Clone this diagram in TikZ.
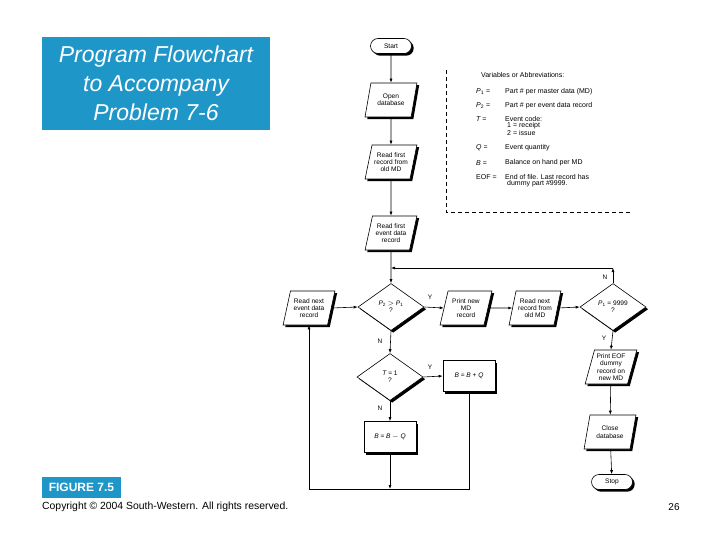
\documentclass[tikz,border=0pt]{standalone}
\usepackage{fontspec}
\setmainfont{Liberation Sans}
\usetikzlibrary{shapes.geometric,shapes.misc,shadows,arrows.meta}
\definecolor{titleblue}{RGB}{30,150,200}
\begin{document}
\begin{tikzpicture}[x=1pt,y=-1pt,
  font=\fontsize{6.6}{7.3}\selectfont,
  base/.style={draw=black, fill=white, line width=0.6pt, align=center, inner sep=1pt,
    drop shadow={shadow xshift=2.2pt, shadow yshift=-2.2pt, opacity=1, fill=black}},
  io/.style={base, trapezium, trapezium left angle=73, trapezium right angle=107,
    trapezium stretches=true, minimum width=52pt, minimum height=34pt},
  dec/.style={base, diamond, minimum width=66pt, minimum height=47pt, inner sep=0pt},
  proc/.style={base, rectangle, minimum width=52pt, minimum height=31pt},
  term/.style={base, rounded rectangle, minimum width=43pt, minimum height=15pt,
    drop shadow={shadow xshift=1.2pt, shadow yshift=-1.2pt, opacity=1, fill=black}},
  arr/.style={-{Latex[length=4pt,width=3pt]}, line width=0.6pt},
  ln/.style={line width=0.6pt},
  yn/.style={font=\fontsize{6.5}{7}\selectfont, inner sep=0pt},
  lg/.style={anchor=west, inner sep=0pt, font=\fontsize{7}{8}\selectfont},
]
\useasboundingbox (0,0) rectangle (720,540);

% title
\node[fill=titleblue, text=white, minimum width=228pt, minimum height=93pt, inner sep=0pt,
  align=center, font=\fontsize{23}{29}\selectfont\itshape] (title) at (156,83.5)
  {Program Flowchart\\to Accompany\\Problem 7-6};

% footer
\node[fill=titleblue, text=white, minimum width=79pt, minimum height=21pt, inner sep=0pt,
  font=\fontsize{12}{13}\selectfont\bfseries] (fig) at (81.5,487.5) {FIGURE 7.5};
\node[anchor=west, inner sep=0pt, font=\fontsize{10.4}{11}\selectfont] (copy) at (42,507)
  {Copyright \textcopyright{} 2004 South-Western. All rights reserved.};
\node[inner sep=0pt, font=\fontsize{10}{11}\selectfont] (page) at (674,507) {26};

% legend
\draw[ln, dash pattern=on 4pt off 3pt] (446,70) -- (446,212) -- (630,212);
\node[lg] (lh) at (481,75) {Variables or Abbreviations:};
\node[lg] (l1a) at (476,92) {{\itshape P}\textsubscript{1} =};
\node[lg] (l1b) at (505,92) {Part \# per master data (MD)};
\node[lg] (l2a) at (476,106) {{\itshape P}\textsubscript{2} =};
\node[lg] (l2b) at (505,106) {Part \# per event data record};
\node[lg] (l3a) at (476,119) {{\itshape T} =};
\node[lg] (l3b) at (505,119) {Event code:};
\node[lg] (l3c) at (507,126) {1 = receipt};
\node[lg] (l3d) at (507,133) {2 = issue};
\node[lg] (l4a) at (476,148) {{\itshape Q} =};
\node[lg] (l4b) at (505,148) {Event quantity};
\node[lg] (l5a) at (476,163) {{\itshape B} =};
\node[lg] (l5b) at (505,163) {Balance on hand per MD};
\node[lg] (l6a) at (476,177) {EOF =};
\node[lg] (l6b) at (505,177) {End of file. Last record has};
\node[lg] (l6c) at (507,184) {dummy part \#9999.};

% flowchart nodes
\node[term] (start) at (391,46) {Start};
\node[io] (open) at (391,100) {Open\\database};
\node[io] (rfirst) at (391,162) {Read first\\record from\\old MD};
\node[io] (rfevent) at (391,233) {Read first\\event data\\record};
\node[dec] (d1) at (391,307) {{\itshape P}\textsubscript{2} $>$ {\itshape P}\textsubscript{1}\\?};
\node[io] (rnext) at (309,308) {Read next\\event data\\record};
\node[io] (prnew) at (466,308) {Print new\\MD\\record};
\node[io] (rnold) at (535,308) {Read next\\record from\\old MD};
\node[dec] (d2) at (613,307) {{\itshape P}\textsubscript{1} = 9999\\?};
\node[io] (preof) at (611,367) {Print EOF\\dummy\\record on\\new MD};
\node[io] (close) at (610,432) {Close\\database};
\node[term] (stop) at (612,482) {Stop};
\node[dec] (d3) at (390,377) {{\itshape T} = 1\\?};
\node[proc] (bplus) at (469,376) {{\itshape B} = {\itshape B} + {\itshape Q}};
\node[proc] (bminus) at (390,437) {{\itshape B} = {\itshape B} $-$ {\itshape Q}};

% helper coordinates
\coordinate (c1) at (613,268);
\coordinate (c2) at (391,268);
\coordinate (j1) at (390,489);
\coordinate (j2) at (469,489);
\coordinate (j3) at (rnext.south |- j1);

% connectors
\draw[arr] (start) -- (open);
\draw[arr] (open) -- (rfirst);
\draw[arr] (rfirst) -- (rfevent);
\draw[arr] (rfevent) -- (d1.north);
\draw[arr] (d2.north) -- (c1);
\draw[arr] (c1) -- (c2);
\draw[arr] (rnext.east) -- (d1.west);
\draw[arr] (d1.east) -- (prnew.west);
\draw[arr] (prnew.east) -- (rnold.west);
\draw[arr] (rnold.east) -- (d2.west);
\draw[arr] (d1.south) -- (d3.north);
\draw[arr] (d3.east) -- (bplus.west);
\draw[arr] (d3.south) -- (bminus.north);
\draw[arr] (bminus.south) -- (j1);
\draw[arr] (bplus.south) -- (j2) -- (j3) -- (rnext.south);
\draw[arr] (d2.south) -- (preof.north);
\draw[arr] (preof) -- (close);
\draw[arr] (close) -- (stop);

% branch labels
\node[yn] (y1) at (430,297) {Y};
\node[yn] (n1) at (380,341) {N};
\node[yn] (y3) at (430,367) {Y};
\node[yn] (n3) at (380,408) {N};
\node[yn] (n2) at (605,277) {N};
\node[yn] (y2) at (604,338) {Y};
\end{tikzpicture}
\end{document}
